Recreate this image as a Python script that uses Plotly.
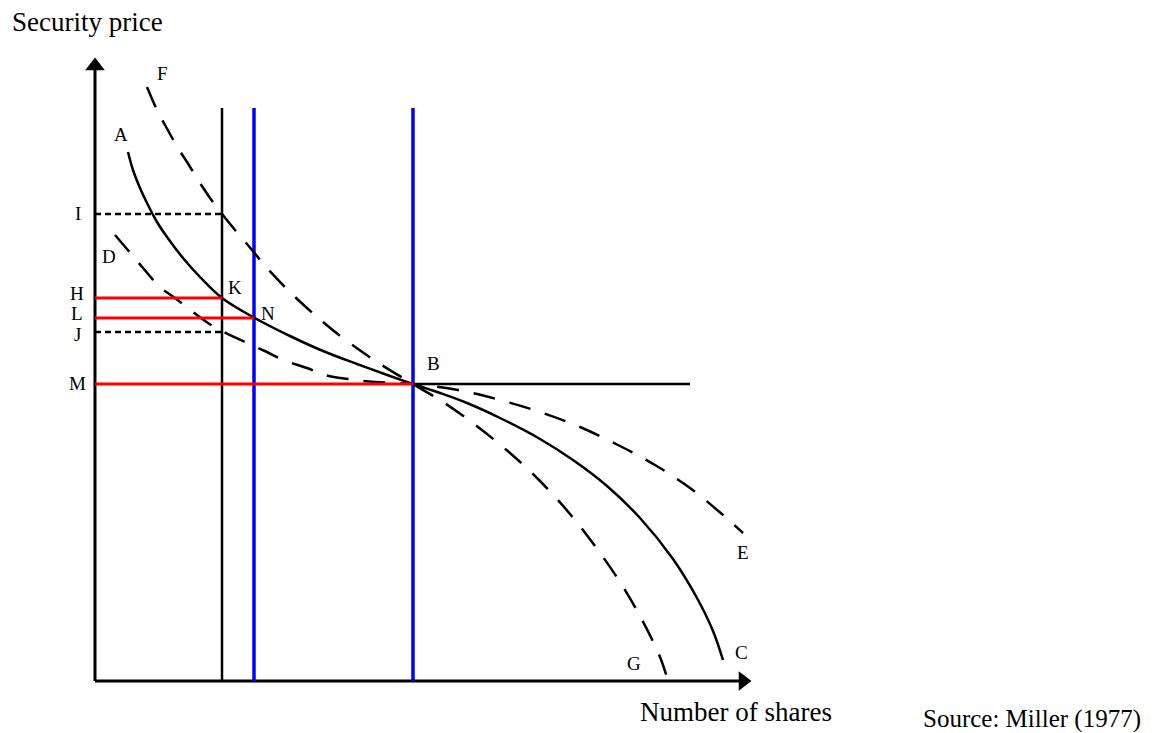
import plotly.graph_objects as go

# Miller (1977) diagram: demand curves for a security with restricted short sales
# solid demand curve A - B - C
demand_x = [33, 38, 45, 53, 62, 72, 88, 105, 127, 158, 195, 228, 262, 295, 318,
            345, 372, 405, 445, 478, 512, 545, 578, 602, 618, 628]
demand_y = [529, 511, 493, 476, 459, 444, 423, 404, 383, 364, 345, 330, 317, 305, 297,
            288, 278, 263, 242, 221, 195, 163, 122, 83, 50, 21]

# dashed curve F - B - G (more divergence of opinion)
wide_x = [52, 62, 70, 83, 92, 105, 115, 127, 140, 157, 172, 198, 228, 248, 282, 318,
          348, 383, 415, 445, 475, 500, 525, 545, 565, 573]
wide_y = [594, 571, 556, 533, 519, 498, 483, 467, 451, 431, 413, 386, 359, 343, 319, 297,
          279, 254, 228, 200, 167, 135, 99, 65, 24, 0]

# dashed curve D - B - E (less divergence of opinion)
narrow_x = [20, 37, 48, 65, 80, 98, 113, 127, 150, 172, 188, 212, 230, 253, 280, 318,
            363, 405, 445, 485, 523, 560, 595, 628, 648]
narrow_y = [446, 426, 413, 394, 383, 369, 358, 350, 339, 329, 321, 313, 306, 302, 299, 297,
            291, 281, 269, 254, 236, 216, 193, 166, 148]

# supply (number of shares) lines
supply_black = 127
supply_blue = [159, 318]
supply_top = 573

# price levels
price_I = 467
price_H = 383
price_L = 363
price_J = 349
price_M = 297
flat_end = 595

axis_x_end = 657
axis_y_end = 624

fig = go.Figure()


def line(x, y, color='black', width=2.5, dash=None, shape='linear'):
    fig.add_trace(go.Scatter(
        x=x, y=y, mode='lines', hoverinfo='skip',
        line=dict(color=color, width=width, dash=dash, shape=shape),
    ))


# axes
line([0, 0], [0, axis_y_end - 8], width=3)
line([0, axis_x_end - 8], [0, 0], width=3)
fig.add_trace(go.Scatter(x=[0], y=[axis_y_end - 9], mode='markers', hoverinfo='skip',
                         marker=dict(symbol='triangle-up', size=17, color='black')))
fig.add_trace(go.Scatter(x=[axis_x_end - 9], y=[0], mode='markers', hoverinfo='skip',
                         marker=dict(symbol='triangle-right', size=17, color='black')))

# vertical supply lines
line([supply_black, supply_black], [0, supply_top], width=2.5)
for xb in supply_blue:
    line([xb, xb], [0, supply_top], color='#0000ff', width=3.5)

# dotted price levels
line([0, supply_black], [price_I, price_I], width=2.5, dash='6px,4px')
line([0, supply_black], [price_J, price_J], width=2.5, dash='6px,4px')

# horizontal at B
line([supply_blue[1], flat_end], [price_M, price_M], width=2.5)

# curves
line(wide_x, wide_y, width=2.5, dash='22px,15px', shape='spline')
line(narrow_x, narrow_y, width=2.5, dash='22px,15px', shape='spline')
line(demand_x, demand_y, width=2.5, shape='spline')

# red price lines
line([0, supply_black], [price_H, price_H], color='#ff0000', width=3)
line([0, supply_blue[0]], [price_L, price_L], color='#ff0000', width=3)
line([0, supply_blue[1]], [price_M, price_M], color='#ff0000', width=3)

serif = 'Liberation Serif, Times New Roman, serif'
letters = [
    ('F', 67, 608), ('A', 26, 547), ('I', -17, 468), ('D', 14, 425),
    ('H', -18, 388), ('K', 140, 394), ('L', -18, 368), ('N', 173, 368),
    ('J', -18, 347), ('M', -18, 298), ('B', 338, 318), ('E', 648, 129),
    ('C', 646, 29), ('G', 539, 18),
]
for txt, x, y in letters:
    fig.add_annotation(x=x, y=y, text=txt, showarrow=False,
                       font=dict(family=serif, size=19, color='black'))

fig.add_annotation(x=-85, y=659, text='Security price', showarrow=False, xanchor='left',
                   font=dict(family=serif, size=27, color='black'))
fig.add_annotation(x=641, y=-31, text='Number of shares', showarrow=False,
                   font=dict(family=serif, size=27, color='black'))
fig.add_annotation(x=937, y=-38, text='Source: Miller (1977)', showarrow=False,
                   font=dict(family=serif, size=25, color='black'))

# the page body has an 8px margin, so the ranges are shifted by 8 units
fig.update_layout(
    width=1157, height=733,
    margin=dict(l=0, r=0, t=0, b=0),
    paper_bgcolor='white', plot_bgcolor='white',
    showlegend=False,
    xaxis=dict(range=[-87, 1070], visible=False, fixedrange=True),
    yaxis=dict(range=[-60, 673], visible=False, fixedrange=True),
)

fig.write_html("out.html")
